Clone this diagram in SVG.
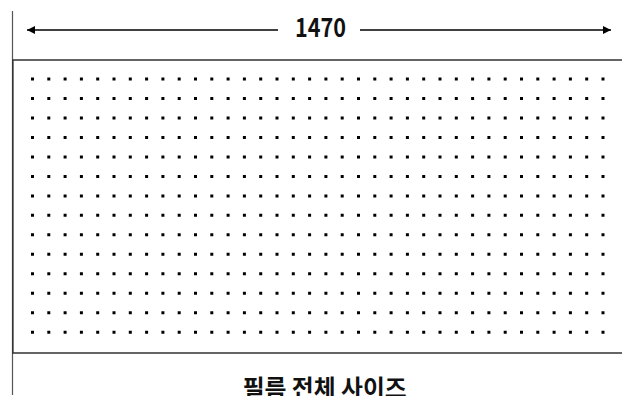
<svg xmlns="http://www.w3.org/2000/svg" width="622" height="396" viewBox="0 0 622 396">
  <style>
    .dim { stroke: #000; stroke-width: 1.3; fill: none; }
    .edge { stroke: #333; stroke-width: 1.6; fill: none; }
    .dot { fill: #000; }
    .label { font-family: "Noto Sans CJK KR", "Noto Sans", "Liberation Sans", sans-serif; font-weight: 700; fill: #111; text-anchor: middle; }
  </style>
  <defs>
    <marker id="arrow" viewBox="0 0 10 10" refX="10" refY="5" markerWidth="8" markerHeight="8" markerUnits="userSpaceOnUse" orient="auto-start-reverse">
      <path d="M0,0 L10,5 L0,10 Z" fill="#000"/>
    </marker>
    <path id="row" class="dot" d="M31,77.5h3v3h-3z m16.3,0h3v3h-3z m16.3,0h3v3h-3z m16.3,0h3v3h-3z m16.3,0h3v3h-3z m16.3,0h3v3h-3z m16.3,0h3v3h-3z m16.3,0h3v3h-3z m16.3,0h3v3h-3z m16.3,0h3v3h-3z m16.3,0h3v3h-3z m16.3,0h3v3h-3z m16.3,0h3v3h-3z m16.3,0h3v3h-3z m16.3,0h3v3h-3z m16.3,0h3v3h-3z m16.3,0h3v3h-3z m16.3,0h3v3h-3z m16.3,0h3v3h-3z m16.3,0h3v3h-3z m16.3,0h3v3h-3z m16.3,0h3v3h-3z m16.3,0h3v3h-3z m16.3,0h3v3h-3z m16.3,0h3v3h-3z m16.3,0h3v3h-3z m16.3,0h3v3h-3z m16.3,0h3v3h-3z m16.3,0h3v3h-3z m16.3,0h3v3h-3z m16.3,0h3v3h-3z m16.3,0h3v3h-3z m16.3,0h3v3h-3z m16.3,0h3v3h-3z m16.3,0h3v3h-3z m16.3,0h3v3h-3z"/>
  </defs>
  <rect width="622" height="396" fill="#fff"/>

  <g id="frame">
    <line x1="12.5" y1="11" x2="12.5" y2="395" stroke="#555" stroke-width="1.2"/>
    <path class="edge" d="M623,60 H12.8 V353 H623"/>
  </g>

  <g id="film">
    <use href="#row"/>
    <use href="#row" y="19.48"/>
    <use href="#row" y="38.96"/>
    <use href="#row" y="58.44"/>
    <use href="#row" y="77.92"/>
    <use href="#row" y="97.4"/>
    <use href="#row" y="116.88"/>
    <use href="#row" y="136.36"/>
    <use href="#row" y="155.84"/>
    <use href="#row" y="175.32"/>
    <use href="#row" y="194.8"/>
    <use href="#row" y="214.28"/>
    <use href="#row" y="233.76"/>
    <use href="#row" y="253.24"/>
  </g>

  <g id="connectors">
    <line class="dim" x1="278" y1="30" x2="27" y2="30" marker-end="url(#arrow)"/>
    <line class="dim" x1="360" y1="30" x2="611" y2="30" marker-end="url(#arrow)"/>
  </g>

  <g id="width-label">
    <text class="label" x="320.5" y="37" font-size="26" textLength="51" lengthAdjust="spacingAndGlyphs">1470</text>
  </g>

  <g id="caption">
    <text class="label" x="324.7" y="397" font-size="24" textLength="164" lengthAdjust="spacingAndGlyphs">필름 전체 사이즈</text>
  </g>
</svg>
